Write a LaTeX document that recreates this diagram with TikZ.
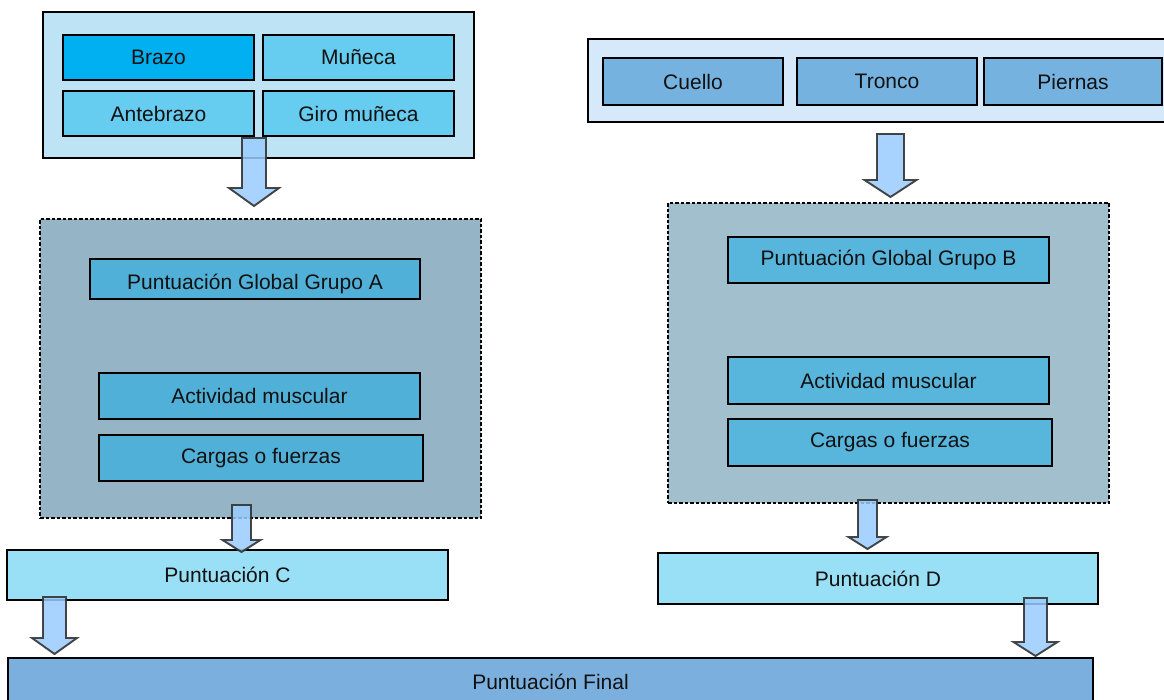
\documentclass[tikz,border=0pt]{standalone}
\usepackage{fontspec}
\setmainfont{Liberation Sans}
\usetikzlibrary{calc}
\definecolor{outA}{RGB}{190,227,245}
\definecolor{brazoC}{RGB}{0,176,240}
\definecolor{armC}{RGB}{102,204,240}
\definecolor{dashA}{RGB}{149,181,199}
\definecolor{pgA}{RGB}{80,176,216}
\definecolor{pgB}{RGB}{88,181,220}
\definecolor{pcd}{RGB}{153,224,247}
\definecolor{finC}{RGB}{123,176,222}
\definecolor{outB}{RGB}{213,233,251}
\definecolor{bodyC}{RGB}{117,178,224}
\definecolor{dashB}{RGB}{162,191,205}
\definecolor{arrC}{RGB}{153,204,255}
\definecolor{txt}{RGB}{17,17,17}
\newcommand{\blockarr}[5]{%
  \draw[barrow] ($(#1)+(-#3,0)$) -- ($(#2)+(-#3,-#5)$) -- ($(#2)+(-#4,-#5)$) -- (#2)
    -- ($(#2)+(#4,-#5)$) -- ($(#2)+(#3,-#5)$) -- ($(#1)+(#3,0)$) -- cycle;}
\begin{document}
\begin{tikzpicture}[x=1pt,y=-1pt,
  box/.style={draw=black,line width=1.4pt,inner sep=0pt,outer sep=0pt,
    font=\fontsize{21}{24}\selectfont,text=txt},
  dbox/.style={draw=black,line width=1.1pt,dash pattern=on 3.5pt off 2pt,inner sep=0pt,outer sep=0pt},
  barrow/.style={fill=arrC,fill opacity=0.85,draw=black!80,draw opacity=0.9,line width=1.9pt,line join=miter}]
\clip (0,0) rectangle (1164,700);
\fill[white] (0,0) rectangle (1164,700);
% Group A
\node[box,fill=outA,minimum width=431,minimum height=146] (outerA) at (258.5,85) {};
\node[box,fill=brazoC,minimum width=191,minimum height=45] (brazo) at (158.5,57.5) {Brazo};
\node[box,fill=armC,minimum width=191,minimum height=45] (muneca) at (358.5,57.5) {Muñeca};
\node[box,fill=armC,minimum width=191,minimum height=45] (antebrazo) at (158.5,113.5) {Antebrazo};
\node[box,fill=armC,minimum width=191,minimum height=45] (giro) at (358.5,113.5) {Giro muñeca};
\node[dbox,fill=dashA,minimum width=441,minimum height=299] (dashedA) at (260.5,368.5) {};
\node[box,fill=pgA,minimum width=330,minimum height=40] (pgga) at (255,279) {\raisebox{-5pt}[\height][\depth]{Puntuación Global Grupo A}};
\node[box,fill=pgA,minimum width=321,minimum height=46] (actA) at (259.5,396) {Actividad muscular};
\node[box,fill=pgA,minimum width=324,minimum height=46] (cargA) at (261,458) {Cargas o fuerzas};
\node[box,fill=pcd,minimum width=441,minimum height=50] (pc) at (227.5,575) {Puntuación C};
% Group B
\node[box,fill=outB,minimum width=592,minimum height=83] (outerB) at (884,80.5) {};
\node[box,fill=bodyC,minimum width=180,minimum height=47] (cuello) at (693,81.5) {Cuello};
\node[box,fill=bodyC,minimum width=180,minimum height=47] (tronco) at (887,81.5) {Tronco};
\node[box,fill=bodyC,minimum width=178,minimum height=47] (piernas) at (1073,81.5) {Piernas};
\node[dbox,fill=dashB,minimum width=441,minimum height=300] (dashedB) at (888.5,353) {};
\node[box,fill=pgB,minimum width=321,minimum height=46] (pggb) at (888.5,260) {Puntuación Global Grupo B};
\node[box,fill=pgB,minimum width=321,minimum height=47] (actB) at (888.5,380.5) {Actividad muscular};
\node[box,fill=pgB,minimum width=324,minimum height=47] (cargB) at (890,442.5) {Cargas o fuerzas};
\node[box,fill=pcd,minimum width=440,minimum height=51] (pd) at (878,578.5) {Puntuación D};
% Final
\node[box,fill=finC,minimum width=1085,minimum height=48] (final) at (550.5,682) {Puntuación Final};
% arrow anchors
\coordinate (a1s) at (254,138);  \coordinate (a1e) at (254,206);
\coordinate (a2s) at (241.5,505); \coordinate (a2e) at (241.5,552);
\coordinate (a3s) at (54.5,597); \coordinate (a3e) at (54.5,654);
\coordinate (b1s) at (890.5,134); \coordinate (b1e) at (890.5,197);
\coordinate (b2s) at (867.5,500); \coordinate (b2e) at (867.5,549);
\coordinate (b3s) at (1035.5,598); \coordinate (b3e) at (1035.5,656);
\blockarr{a1s}{a1e}{12}{25}{18}
\blockarr{a2s}{a2e}{9.5}{19}{12}
\blockarr{a3s}{a3e}{11.5}{22.5}{16}
\blockarr{b1s}{b1e}{13.5}{26}{17}
\blockarr{b2s}{b2e}{9.5}{19}{12}
\blockarr{b3s}{b3e}{11.5}{22}{14}
\end{tikzpicture}
\end{document}
